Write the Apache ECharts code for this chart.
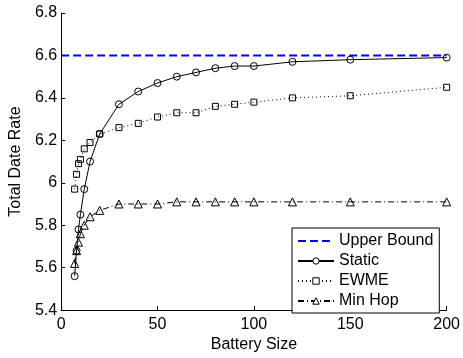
<!DOCTYPE html>
<html>
<head>
<meta charset="utf-8">
<script src="https://cdn.jsdelivr.net/npm/echarts@6/dist/echarts.min.js"></script>
<style>
  html, body { margin: 0; padding: 0; background: #fff; }
  #chart { width: 463px; height: 358px; }
</style>
</head>
<body>
<div id="chart"></div>
<script>
// battery sizes (x) and the three measured series
const batterySize = [7, 8, 9, 10, 12, 15, 20, 30, 40, 50, 60, 70, 80, 90, 100, 120, 150, 200];
const upperBound = [6.6, 6.6];
const upperBoundX = [0, 200];
const staticRate = [5.56, 5.68, 5.78, 5.85, 5.97, 6.10, 6.23, 6.37, 6.43, 6.47, 6.50, 6.52, 6.54, 6.55, 6.55, 6.57, 6.58, 6.59];
const ewmeRate = [5.97, 6.04, 6.09, 6.11, 6.16, 6.19, 6.23, 6.26, 6.28, 6.31, 6.33, 6.33, 6.36, 6.37, 6.38, 6.40, 6.41, 6.45];
const minHopRate = [5.62, 5.68, 5.72, 5.76, 5.80, 5.84, 5.87, 5.90, 5.90, 5.90, 5.91, 5.91, 5.91, 5.91, 5.91, 5.91, 5.91, 5.91];

const font = "'Liberation Sans', Arial, sans-serif";
const pairs = (xs, ys) => xs.map((x, i) => [x, ys[i]]);

const chart = echarts.init(document.getElementById("chart"));

const hollow = { color: "rgba(0,0,0,0)", borderColor: "#000", borderWidth: 1 };

chart.setOption({
  animation: false,
  textStyle: { fontFamily: font, color: "#000" },
  grid: { left: 59, right: 13, top: 13, bottom: 40, containLabel: false },
  xAxis: {
    type: "value",
    min: 0,
    max: 200,
    interval: 50,
    name: "Battery Size",
    nameLocation: "middle",
    nameGap: 24,
    nameTextStyle: { fontSize: 16, color: "#000", fontFamily: font },
    axisLine: { lineStyle: { color: "#000", width: 1 } },
    axisTick: { inside: true, length: 4, lineStyle: { color: "#000" } },
    axisLabel: { fontSize: 16, color: "#000", margin: 6, fontFamily: font },
    splitLine: { show: false },
  },
  yAxis: {
    type: "value",
    min: 5.4,
    max: 6.8,
    interval: 0.2,
    name: "Total Date Rate",
    nameLocation: "middle",
    nameGap: 32,
    nameTextStyle: { fontSize: 16, color: "#000", fontFamily: font },
    axisLine: { show: true, lineStyle: { color: "#000", width: 1 } },
    axisTick: { show: true, inside: true, length: 4, lineStyle: { color: "#000" } },
    axisLabel: { fontSize: 16, color: "#000", margin: 4, fontFamily: font },
    splitLine: { show: false },
  },
  legend: {
    orient: "vertical",
    left: 292,
    top: 228,
    padding: [3, 6, 2, 5],
    itemGap: 0,
    itemWidth: 36,
    itemHeight: 8,
    backgroundColor: "#fff",
    borderColor: "#000",
    borderWidth: 1,
    borderRadius: 0,
    itemStyle: { color: "#fff", borderColor: "#000", borderWidth: 1 },
    textStyle: { fontSize: 16, lineHeight: 20, color: "#000", fontFamily: font },
    data: [
      { name: "Upper Bound", itemStyle: { opacity: 0 } },
      "Static",
      "EWME",
      "Min Hop",
    ],
  },
  series: [
    {
      name: "Upper Bound",
      type: "line",
      data: pairs(upperBoundX, upperBound),
      symbol: "none",
      lineStyle: { color: "#0000ff", width: 2, type: [8, 4] },
      itemStyle: { color: "#0000ff" },
    },
    {
      name: "Static",
      type: "line",
      data: pairs(batterySize, staticRate),
      symbol: "circle",
      symbolSize: 7,
      lineStyle: { color: "#000", width: 1 },
      itemStyle: hollow,
    },
    {
      name: "EWME",
      type: "line",
      data: pairs(batterySize, ewmeRate),
      symbol: "rect",
      symbolSize: 6,
      lineStyle: { color: "#000", width: 1, type: [1, 3] },
      itemStyle: hollow,
    },
    {
      name: "Min Hop",
      type: "line",
      data: pairs(batterySize, minHopRate),
      symbol: "triangle",
      symbolSize: 8,
      lineStyle: { color: "#000", width: 1, type: [6, 3, 1, 3] },
      itemStyle: hollow,
    },
  ],
});
</script>
</body>
</html>
